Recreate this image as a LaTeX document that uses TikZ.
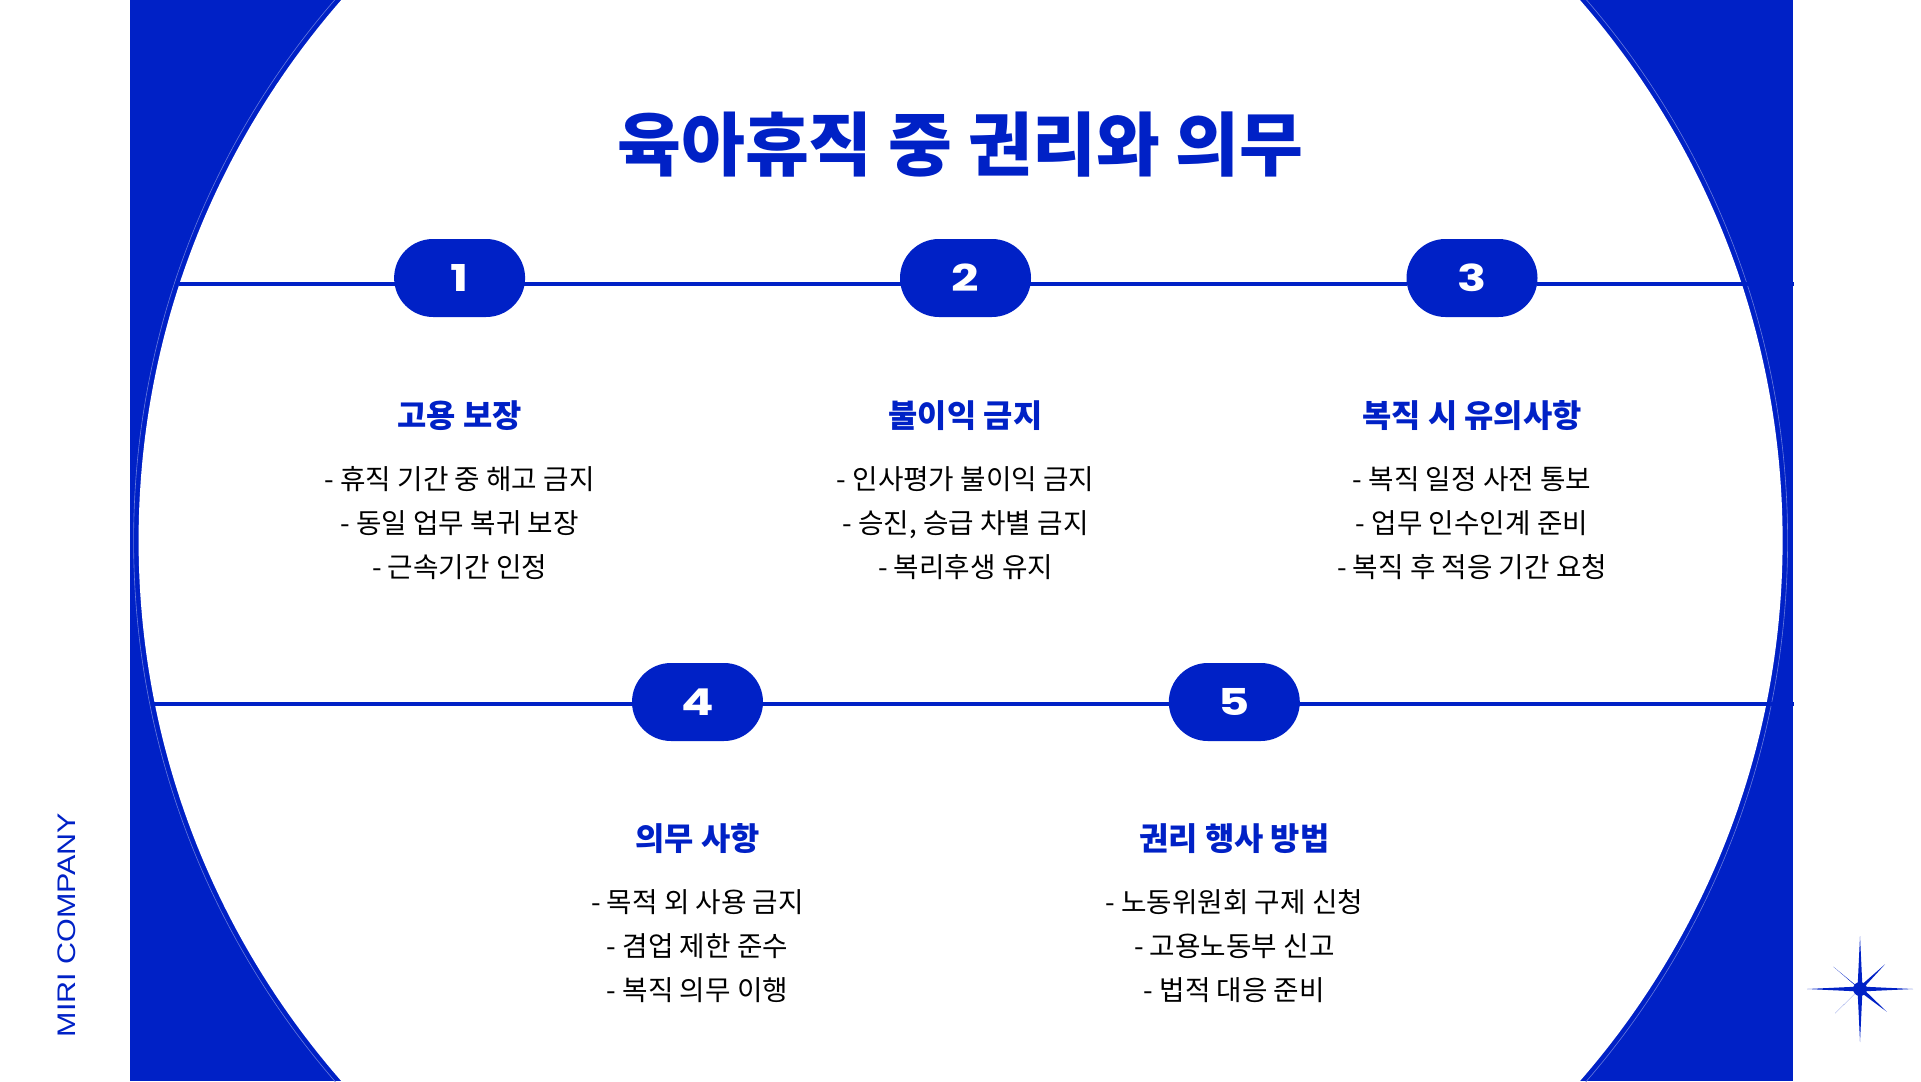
\documentclass[tikz,border=0pt]{standalone}
\usepackage{fontspec}
\setmainfont{Noto Sans CJK KR}
\newfontfamily\numfont[FakeStretch=1.3]{Poppins}
\newfontfamily\brandfont[FakeStretch=1.2]{Liberation Sans}
\definecolor{miri}{HTML}{0021C6}
\tikzset{
  pill/.style={fill=miri,text=white,rounded corners=39pt,minimum width=131pt,minimum height=78pt,inner sep=0pt,font=\numfont\bfseries\fontsize{37}{40}\selectfont},
  headtext/.style={text=miri,inner sep=0pt,font=\bfseries\fontsize{31.8}{36}\selectfont},
  bodytext/.style={text=black,inner sep=0pt,align=center,font=\fontsize{27.7}{44}\selectfont},
  rule/.style={miri,line width=3.6pt,shorten <=-1pt,shorten >=-1pt},
  starfill/.style={fill=miri,draw=none}
}
\begin{document}
\begin{tikzpicture}[x=1pt,y=-1pt]
\useasboundingbox (0,0) rectangle (1921,1081);
\begin{scope}
\clip (0,0) rectangle (1921,1081);
\fill[miri] (129.5,0) rectangle (1793,1081);
\draw[white!40!miri,line width=0.6pt] (960.6,540.5) circle[radius=827];
\fill[white] (960.6,540.5) circle[radius=822];
\end{scope}
% title
\node[text=miri,inner sep=0pt,font=\bfseries\fontsize{69.4}{80}\selectfont] (title) at (960.5,144.8) {육아휴직 중 권리와 의무};
% pills
\node[pill] (p1) at (459.6,278) {1};
\node[pill] (p2) at (965.5,278) {2};
\node[pill] (p3) at (1472,278) {3};
\node[pill] (p4) at (697.5,702) {4};
\node[pill] (p5) at (1234.3,702) {5};
% connectors
\coordinate (l1) at (180,284);
\coordinate (r1) at (1793,284);
\coordinate (l2) at (155,703.7);
\coordinate (r2) at (1793,703.7);
\draw[rule] (l1) -- (l1 -| p1.west);
\draw[rule] (l1 -| p1.east) -- (l1 -| p2.west);
\draw[rule] (l1 -| p2.east) -- (l1 -| p3.west);
\draw[rule] (l1 -| p3.east) -- (r1);
\draw[rule] (l2) -- (l2 -| p4.west);
\draw[rule] (l2 -| p4.east) -- (l2 -| p5.west);
\draw[rule] (l2 -| p5.east) -- (r2);
% texts
\node[headtext] (h1) at (459.6,416) {고용 보장};
\node[headtext] (h2) at (965.5,416) {불이익 금지};
\node[headtext] (h3) at (1472,416) {복직 시 유의사항};
\node[headtext] (h4) at (697.5,838.5) {의무 사항};
\node[headtext] (h5) at (1234.3,838.5) {권리 행사 방법};
\node[bodytext] (b1) at (459.6,523.2) {- 휴직 기간 중 해고 금지\\- 동일 업무 복귀 보장\\- 근속기간 인정};
\node[bodytext] (b2) at (965.5,523.2) {- 인사평가 불이익 금지\\- 승진, 승급 차별 금지\\- 복리후생 유지};
\node[bodytext] (b3) at (1472,523.2) {- 복직 일정 사전 통보\\- 업무 인수인계 준비\\- 복직 후 적응 기간 요청};
\node[bodytext] (b4) at (697.5,946.2) {- 목적 외 사용 금지\\- 겸업 제한 준수\\- 복직 의무 이행};
\node[bodytext] (b5) at (1234.3,946.2) {- 노동위원회 구제 신청\\- 고용노동부 신고\\- 법적 대응 준비};
% brand
\node[rotate=90,text=miri,inner sep=0pt,font=\brandfont\fontsize{25.4}{30}\selectfont] (brand) at (67,925) {MIRI COMPANY};
% star
\fill[starfill] (1860,989) circle[radius=7];
\fill[starfill] (1857.5,989) -- (1860,936) -- (1862.5,989) -- (1860,1042) -- cycle;
\fill[starfill] (1860,986.5) -- (1807,989) -- (1860,991.5) -- (1913,989) -- cycle;
\fill[starfill] (1858,987) -- (1833.3,966.7) -- (1861,990.5) -- (1885,964.3) -- (1858.8,987.2) -- cycle;
\fill[starfill] (1861.8,987.5) -- (1886.7,1011.7) -- (1858.2,990.5) -- (1835,1013.3) -- (1861,987.8) -- cycle;
\end{tikzpicture}
\end{document}
